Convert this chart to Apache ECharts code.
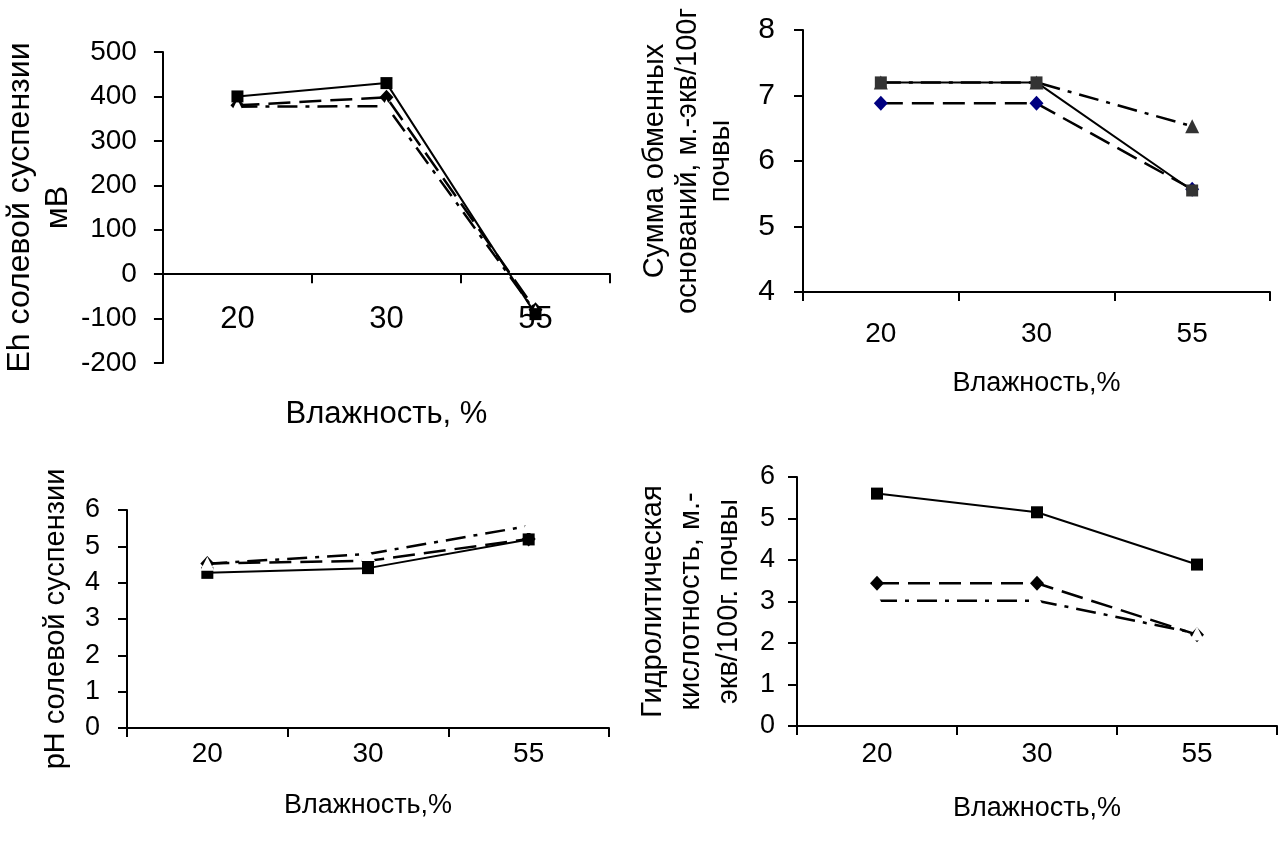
<!DOCTYPE html>
<html>
<head>
<meta charset="utf-8">
<script src="https://cdn.jsdelivr.net/npm/echarts@6/dist/echarts.min.js"></script>
<style>
html,body{margin:0;padding:0;background:#fff;}
#c{width:1280px;height:843px;}
</style>
</head>
<body>
<div id="c"></div>
<script>
// categories (влажность, %)
const categories = ['20', '30', '55'];

// Chart 1: Eh солевой суспензии, мВ
const eh_solid = [400, 430, -90];
const eh_dashed = [380, 398, -80];
const eh_dashdot = [377, 378, -85];

// Chart 2: Сумма обменных оснований
const sum_solid = [7.2, 7.2, 5.55];
const sum_dashed = [6.88, 6.88, 5.57];
const sum_dashdot = [7.2, 7.2, 6.53];

// Chart 3: pH солевой суспензии
const ph_solid = [4.27, 4.4, 5.19];
const ph_dashed = [4.53, 4.6, 5.2];
const ph_dashdot = [4.52, 4.79, 5.56];

// Chart 4: Гидролитическая кислотность
const hk_solid = [5.6, 5.15, 3.89];
const hk_dashed = [3.44, 3.44, 2.2];
const hk_dashdot = [3.02, 3.02, 2.23];

const FONT = '"Liberation Sans", Arial, sans-serif';
const chart = echarts.init(document.getElementById('c'), null, {renderer: 'canvas'});

const axisLine = {show: true, onZero: true, lineStyle: {color: '#000', width: 2}};
const axisTick = {show: true, length: 9, inside: false, lineStyle: {color: '#000', width: 2}};

function xAxis(grid, name, margin, nameGap, labelSize, nameSize) {
  return {
    type: 'category', gridIndex: grid, data: categories, boundaryGap: true,
    axisLine: axisLine, axisTick: Object.assign({alignWithLabel: false}, axisTick),
    axisLabel: {color: '#000', fontFamily: FONT, fontSize: labelSize, margin: margin},
    name: name, nameLocation: 'middle', nameGap: nameGap,
    nameTextStyle: {color: '#000', fontFamily: FONT, fontSize: nameSize},
    splitLine: {show: false}
  };
}
function yAxis(grid, min, max, interval, name, nameGap, labelSize, margin, nameSize, lh) {
  return {
    type: 'value', gridIndex: grid, min: min, max: max, interval: interval,
    axisLine: {show: true, lineStyle: {color: '#000', width: 2}},
    axisTick: axisTick,
    axisLabel: {color: '#000', fontFamily: FONT, fontSize: labelSize, margin: margin},
    splitLine: {show: false},
    name: name, nameLocation: 'middle', nameRotate: 90, nameGap: nameGap,
    nameTextStyle: {color: '#000', fontFamily: FONT, fontSize: nameSize, lineHeight: lh, align: 'center'}
  };
}

const DASH = [22, 9];
const DASHDOT = [20, 8, 4, 8];

function ser(idx, data, kind, markerColor) {
  const s = {type: 'line', xAxisIndex: idx, yAxisIndex: idx, data: data, animation: false,
    showSymbol: true, symbolKeepAspect: true, z: 2};
  if (kind === 'solid') {
    s.symbol = 'rect'; s.symbolSize = 12;
    s.lineStyle = {color: '#000', width: 2, type: 'solid'};
    s.itemStyle = {color: markerColor || '#000', borderWidth: 0};
  } else if (kind === 'dashed') {
    s.symbol = 'diamond'; s.symbolSize = [14, 15];
    s.lineStyle = {color: '#000', width: 2.5, type: DASH};
    s.itemStyle = {color: markerColor || '#000', borderWidth: 0};
  } else {
    s.symbol = 'triangle'; s.symbolSize = 14;
    s.lineStyle = {color: '#000', width: 2.5, type: DASHDOT};
    s.itemStyle = {color: markerColor || '#fff', borderWidth: 0};
  }
  return s;
}

const option = {
  backgroundColor: '#fff',
  animation: false,
  textStyle: {fontFamily: FONT},
  grid: [
    {left: 153, top: 52, width: 457, height: 311},
    {left: 803, top: 30, width: 467, height: 262},
    {left: 127, top: 510, width: 482, height: 218},
    {left: 797, top: 477, width: 480, height: 249}
  ],
  xAxis: [
    xAxis(0, 'Влажность, %', -59, 36, 31, 31),
    xAxis(1, 'Влажность,%', 28, 78, 28, 27),
    xAxis(2, 'Влажность,%', 12, 64, 28, 27),
    xAxis(3, 'Влажность,%', 14, 69, 28, 27)
  ],
  yAxis: [
    yAxis(0, -200, 500, 100, 'Eh солевой суспензии\nмВ', 57, 28, 26, 32, 38),
    yAxis(1, 4, 8, 1, 'Сумма обменных\nоснований, м.-экв/100г\nпочвы', 66, 30, 28, 29, 33),
    yAxis(2, 0, 6, 1, 'pH солевой суспензии', 53, 27, 27, 29, 36),
    yAxis(3, 0, 6, 1, 'Гидролитическая\nкислотность, м.-\nэкв/100г. почвы', 49, 27, 22, 29, 38)
  ],
  series: [
    ser(0, eh_dashed, 'dashed'),
    ser(0, eh_dashdot, 'dashdot'),
    ser(0, eh_solid, 'solid'),

    ser(1, sum_dashdot, 'dashdot', '#333333'),
    ser(1, sum_dashed, 'dashed', '#000080'),
    ser(1, sum_solid, 'solid', '#333333'),

    ser(2, ph_solid, 'solid'),
    ser(2, ph_dashed, 'dashed'),
    ser(2, ph_dashdot, 'dashdot'),

    ser(3, hk_solid, 'solid'),
    ser(3, hk_dashed, 'dashed'),
    ser(3, hk_dashdot, 'dashdot')
  ]
};
chart.setOption(option);
</script>
</body>
</html>
